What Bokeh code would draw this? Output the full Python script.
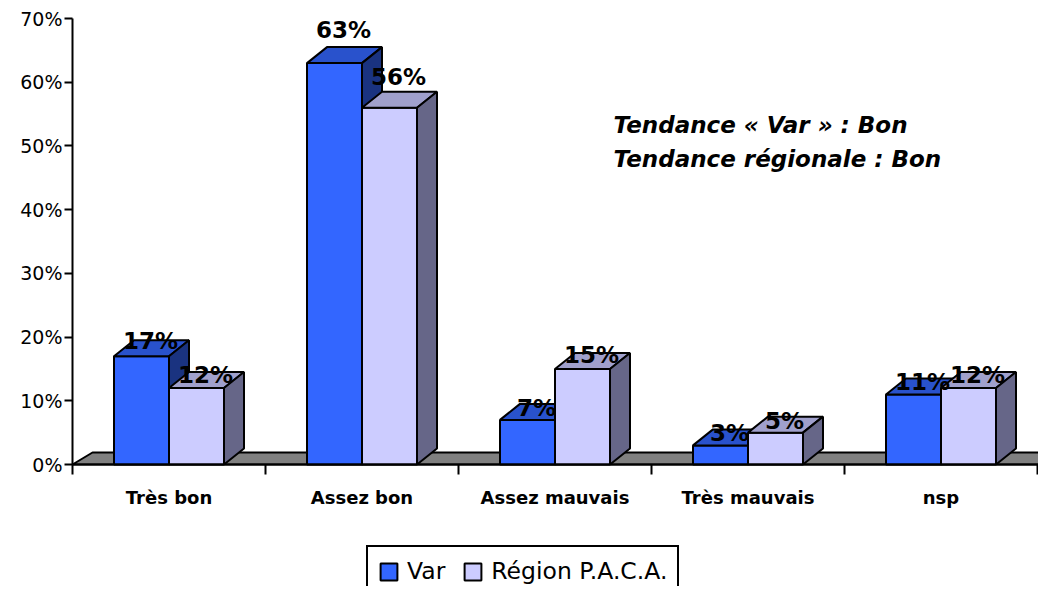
from bokeh.plotting import figure
from bokeh.models import (Range1d, FixedTicker, Legend, LegendItem, Label, LinearAxis)
from bokeh.core.properties import value
from bokeh.embed import file_html
from bokeh.resources import INLINE

# ---- data ----
categories = ["Très bon", "Assez bon", "Assez mauvais", "Très mauvais", "nsp"]
var_values = [17, 63, 7, 3, 11]
paca_values = [12, 56, 15, 5, 12]
y_ticks = [0, 10, 20, 30, 40, 50, 60, 70]
y_tick_labels = ["0%", "10%", "20%", "30%", "40%", "50%", "60%", "70%"]
series_names = ["Var", "Région P.A.C.A."]
notes = ["Tendance « Var » : Bon", "Tendance régionale : Bon"]

FONT = "DejaVu Sans"

W_PX, H_PX = 1038, 586
AX_X, AX_Y0, AX_Y70 = 72, 464, 18      # pixel positions of the axes
px_y = (AX_Y0 - AX_Y70) / 70.0
px_x = 193.0
n = len(categories)

x_start = -AX_X / px_x
x_end = (W_PX - AX_X) / px_x
y_end = 70 + AX_Y70 / px_y
y_start = -(H_PX - AX_Y0) / px_y

DX = 20 / px_x
DY = 16 / px_y
FDY = 12 / px_y
BW = 55 / px_x
TXT_SHIFT = 9   # px upward correction for text baselines

p = figure(width=W_PX, height=H_PX, output_backend="svg", toolbar_location=None,
           x_range=Range1d(x_start, x_end), y_range=Range1d(y_start, y_end),
           x_axis_location=None, y_axis_location=None,
           min_border=0)
p.outline_line_color = None
p.xgrid.grid_line_color = None
p.ygrid.grid_line_color = None
p.background_fill_color = "white"
p.border_fill_color = "white"

# floor
p.patch([0, n, n + DX, DX], [0, 0, FDY, FDY],
        fill_color="#808080", line_color="black", line_width=2)

def faces(vals, offset):
    left = [i + 0.5 + offset for i in range(n)]
    right = [l + BW for l in left]
    top_xs = [[l, r, r + DX, l + DX] for l, r in zip(left, right)]
    top_ys = [[v, v, v + DY, v + DY] for v in vals]
    side_xs = [[r, r, r + DX, r + DX] for r in right]
    side_ys = [[0, v, v + DY, DY] for v in vals]
    return left, right, top_xs, top_ys, side_xs, side_ys

styles = [
    dict(front="#3366FF", top="#2952CC", side="#1A3380"),
    dict(front="#CCCCFF", top="#A0A0CC", side="#666688"),
]
front_renderers = []
for vals, off, st in [(var_values, -BW, styles[0]), (paca_values, 0.0, styles[1])]:
    left, right, txs, tys, sxs, sys_ = faces(vals, off)
    fr = p.quad(left=left, right=right, bottom=[0] * n, top=vals,
                fill_color=st["front"], line_color="black", line_width=2)
    p.patches(txs, tys, fill_color=st["top"], line_color="black", line_width=2)
    p.patches(sxs, sys_, fill_color=st["side"], line_color="black", line_width=2)
    front_renderers.append(fr)

# data labels
for vals, off in [(var_values, -BW), (paca_values, 0.0)]:
    xs = [i + 0.5 + off + BW / 2 + 9 / px_x for i in range(n)]
    txt = [f"{v}%" for v in vals]
    yoff = [-(3 + TXT_SHIFT + 0.4 * max(0, v - 10)) for v in vals]
    p.text(x=xs, y=vals, text=txt, y_offset=yoff, text_align="center",
           text_baseline="alphabetic", text_font=value(FONT),
           text_font_size="23px", text_font_style="bold", text_color="black")

# notes
for k, t in enumerate(notes):
    p.add_layout(Label(x=(613 - AX_X) / px_x,
                       y=(AX_Y0 - 133 - 34 * k + TXT_SHIFT) / px_y, text=t,
                       text_font=FONT, text_font_size="23px",
                       text_font_style="bold italic", text_color="black",
                       text_baseline="alphabetic"))

# y axis
ya = LinearAxis(fixed_location=0, bounds=(0, 70))
ya.ticker = FixedTicker(ticks=y_ticks, minor_ticks=[])
ya.major_label_overrides = {t: l for t, l in zip(y_ticks, y_tick_labels)}
ya.axis_line_width = 2
ya.axis_line_color = "black"
ya.major_tick_line_width = 2
ya.major_tick_line_color = "black"
ya.major_tick_out = 8
ya.major_tick_in = 0
ya.major_label_standoff = 2
ya.major_label_text_font = FONT
ya.major_label_text_font_size = "19px"
ya.major_label_text_color = "black"
p.add_layout(ya, "left")

# x axis
xa = LinearAxis(fixed_location=0, bounds=(0, n))
centers = [i + 0.5 for i in range(n)]
xa.ticker = FixedTicker(ticks=centers, minor_ticks=list(range(n + 1)))
xa.major_label_overrides = {c: l for c, l in zip(centers, categories)}
xa.axis_line_width = 2
xa.axis_line_color = "black"
xa.major_tick_out = 0
xa.major_tick_in = 0
xa.minor_tick_out = 10
xa.minor_tick_in = 0
xa.minor_tick_line_width = 2
xa.minor_tick_line_color = "black"
xa.major_label_standoff = 12
xa.major_label_text_font = FONT
xa.major_label_text_font_size = "18px"
xa.major_label_text_font_style = "bold"
xa.major_label_text_color = "black"
p.add_layout(xa, "below")

# legend
legend = Legend(items=[LegendItem(label=s, renderers=[r]) for s, r in zip(series_names, front_renderers)],
                orientation="horizontal", location=(366, -11))
legend.border_line_color = "black"
legend.border_line_width = 2
legend.border_line_alpha = 1
legend.background_fill_color = "white"
legend.background_fill_alpha = 1
legend.label_text_font = FONT
legend.label_text_font_size = "23.5px"
legend.label_text_color = "black"
legend.glyph_width = 21
legend.glyph_height = 21
legend.label_height = 22
legend.label_standoff = 8
legend.spacing = 17
legend.padding = 10
legend.margin = 0
p.add_layout(legend, "center")

open("out.html", "w").write(file_html(p, INLINE))
